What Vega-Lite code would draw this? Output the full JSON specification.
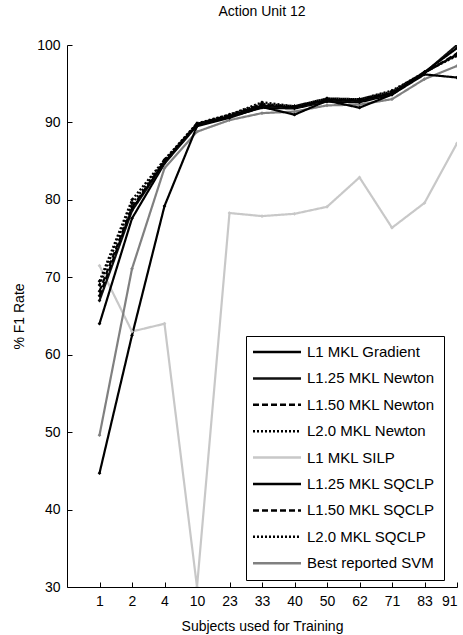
{
  "$schema": "https://vega.github.io/schema/vega-lite/v6.json",
  "width": 390,
  "height": 542,
  "autosize": {"type": "none"},
  "padding": {"left": 67, "top": 45, "right": 6, "bottom": 48},
  "background": "white",
  "title": {"text": "Action Unit 12", "fontSize": 14, "fontWeight": "normal", "font": "Liberation Sans", "color": "black", "offset": 19, "anchor": "middle"},
  "config": {
    "view": {"stroke": null},
    "axis": {"grid": false, "domainColor": "black", "tickColor": "black", "labelColor": "black", "titleColor": "black", "labelFont": "Liberation Sans", "titleFont": "Liberation Sans", "labelFontSize": 14, "titleFontSize": 14, "titleFontWeight": "normal", "tickSize": -5, "domainWidth": 1, "tickWidth": 1},
    "legend": {"orient": "none", "legendX": 179, "legendY": 291, "strokeColor": "black", "fillColor": "white", "padding": 8.5, "symbolType": "M-4,0H4", "symbolSize": 144, "symbolStrokeWidth": 2.5, "symbolOffset": 15, "labelOffset": 22.5, "labelFontSize": 15, "labelFont": "Liberation Sans", "labelColor": "black", "rowPadding": 10.4, "labelLimit": 300, "cornerRadius": 0}
  },
  "data": {"values": [
    {"s": "L1 MKL SILP", "pos": 1, "v": 71.5}, {"s": "L1 MKL SILP", "pos": 2, "v": 63.0}, {"s": "L1 MKL SILP", "pos": 3, "v": 64.0}, {"s": "L1 MKL SILP", "pos": 4, "v": 30.0}, {"s": "L1 MKL SILP", "pos": 5, "v": 78.3}, {"s": "L1 MKL SILP", "pos": 6, "v": 77.9}, {"s": "L1 MKL SILP", "pos": 7, "v": 78.2}, {"s": "L1 MKL SILP", "pos": 8, "v": 79.1}, {"s": "L1 MKL SILP", "pos": 9, "v": 82.9}, {"s": "L1 MKL SILP", "pos": 10, "v": 76.4}, {"s": "L1 MKL SILP", "pos": 11, "v": 79.6}, {"s": "L1 MKL SILP", "pos": 12, "v": 87.3},
    {"s": "Best reported SVM", "pos": 1, "v": 49.6}, {"s": "Best reported SVM", "pos": 2, "v": 71.1}, {"s": "Best reported SVM", "pos": 3, "v": 84.1}, {"s": "Best reported SVM", "pos": 4, "v": 88.8}, {"s": "Best reported SVM", "pos": 5, "v": 90.3}, {"s": "Best reported SVM", "pos": 6, "v": 91.2}, {"s": "Best reported SVM", "pos": 7, "v": 91.4}, {"s": "Best reported SVM", "pos": 8, "v": 92.2}, {"s": "Best reported SVM", "pos": 9, "v": 92.3}, {"s": "Best reported SVM", "pos": 10, "v": 93.0}, {"s": "Best reported SVM", "pos": 11, "v": 95.6}, {"s": "Best reported SVM", "pos": 12, "v": 97.3},
    {"s": "L1 MKL Gradient", "pos": 1, "v": 64.0}, {"s": "L1 MKL Gradient", "pos": 2, "v": 77.6}, {"s": "L1 MKL Gradient", "pos": 3, "v": 84.7}, {"s": "L1 MKL Gradient", "pos": 4, "v": 89.6}, {"s": "L1 MKL Gradient", "pos": 5, "v": 90.7}, {"s": "L1 MKL Gradient", "pos": 6, "v": 91.9}, {"s": "L1 MKL Gradient", "pos": 7, "v": 91.8}, {"s": "L1 MKL Gradient", "pos": 8, "v": 92.7}, {"s": "L1 MKL Gradient", "pos": 9, "v": 92.6}, {"s": "L1 MKL Gradient", "pos": 10, "v": 93.6}, {"s": "L1 MKL Gradient", "pos": 11, "v": 96.2}, {"s": "L1 MKL Gradient", "pos": 12, "v": 95.8},
    {"s": "L1.25 MKL Newton", "pos": 1, "v": 67.0}, {"s": "L1.25 MKL Newton", "pos": 2, "v": 78.6}, {"s": "L1.25 MKL Newton", "pos": 3, "v": 84.8}, {"s": "L1.25 MKL Newton", "pos": 4, "v": 89.7}, {"s": "L1.25 MKL Newton", "pos": 5, "v": 90.8}, {"s": "L1.25 MKL Newton", "pos": 6, "v": 92.1}, {"s": "L1.25 MKL Newton", "pos": 7, "v": 91.9}, {"s": "L1.25 MKL Newton", "pos": 8, "v": 92.8}, {"s": "L1.25 MKL Newton", "pos": 9, "v": 92.8}, {"s": "L1.25 MKL Newton", "pos": 10, "v": 93.7}, {"s": "L1.25 MKL Newton", "pos": 11, "v": 96.4}, {"s": "L1.25 MKL Newton", "pos": 12, "v": 100.0},
    {"s": "L1.50 MKL Newton", "pos": 1, "v": 68.2}, {"s": "L1.50 MKL Newton", "pos": 2, "v": 79.0}, {"s": "L1.50 MKL Newton", "pos": 3, "v": 85.0}, {"s": "L1.50 MKL Newton", "pos": 4, "v": 89.8}, {"s": "L1.50 MKL Newton", "pos": 5, "v": 90.9}, {"s": "L1.50 MKL Newton", "pos": 6, "v": 92.3}, {"s": "L1.50 MKL Newton", "pos": 7, "v": 92.0}, {"s": "L1.50 MKL Newton", "pos": 8, "v": 93.0}, {"s": "L1.50 MKL Newton", "pos": 9, "v": 92.9}, {"s": "L1.50 MKL Newton", "pos": 10, "v": 93.8}, {"s": "L1.50 MKL Newton", "pos": 11, "v": 96.4}, {"s": "L1.50 MKL Newton", "pos": 12, "v": 98.9},
    {"s": "L2.0 MKL Newton", "pos": 1, "v": 69.0}, {"s": "L2.0 MKL Newton", "pos": 2, "v": 79.5}, {"s": "L2.0 MKL Newton", "pos": 3, "v": 85.1}, {"s": "L2.0 MKL Newton", "pos": 4, "v": 89.8}, {"s": "L2.0 MKL Newton", "pos": 5, "v": 91.0}, {"s": "L2.0 MKL Newton", "pos": 6, "v": 92.4}, {"s": "L2.0 MKL Newton", "pos": 7, "v": 92.1}, {"s": "L2.0 MKL Newton", "pos": 8, "v": 93.1}, {"s": "L2.0 MKL Newton", "pos": 9, "v": 93.0}, {"s": "L2.0 MKL Newton", "pos": 10, "v": 94.0}, {"s": "L2.0 MKL Newton", "pos": 11, "v": 96.5}, {"s": "L2.0 MKL Newton", "pos": 12, "v": 98.7},
    {"s": "L1.25 MKL SQCLP", "pos": 1, "v": 44.7}, {"s": "L1.25 MKL SQCLP", "pos": 2, "v": 62.5}, {"s": "L1.25 MKL SQCLP", "pos": 3, "v": 79.2}, {"s": "L1.25 MKL SQCLP", "pos": 4, "v": 89.5}, {"s": "L1.25 MKL SQCLP", "pos": 5, "v": 90.6}, {"s": "L1.25 MKL SQCLP", "pos": 6, "v": 92.0}, {"s": "L1.25 MKL SQCLP", "pos": 7, "v": 91.0}, {"s": "L1.25 MKL SQCLP", "pos": 8, "v": 92.8}, {"s": "L1.25 MKL SQCLP", "pos": 9, "v": 91.9}, {"s": "L1.25 MKL SQCLP", "pos": 10, "v": 93.6}, {"s": "L1.25 MKL SQCLP", "pos": 11, "v": 96.5}, {"s": "L1.25 MKL SQCLP", "pos": 12, "v": 99.6},
    {"s": "L1.50 MKL SQCLP", "pos": 1, "v": 67.6}, {"s": "L1.50 MKL SQCLP", "pos": 2, "v": 78.8}, {"s": "L1.50 MKL SQCLP", "pos": 3, "v": 84.9}, {"s": "L1.50 MKL SQCLP", "pos": 4, "v": 89.7}, {"s": "L1.50 MKL SQCLP", "pos": 5, "v": 90.8}, {"s": "L1.50 MKL SQCLP", "pos": 6, "v": 92.2}, {"s": "L1.50 MKL SQCLP", "pos": 7, "v": 91.9}, {"s": "L1.50 MKL SQCLP", "pos": 8, "v": 92.9}, {"s": "L1.50 MKL SQCLP", "pos": 9, "v": 92.8}, {"s": "L1.50 MKL SQCLP", "pos": 10, "v": 93.8}, {"s": "L1.50 MKL SQCLP", "pos": 11, "v": 96.4}, {"s": "L1.50 MKL SQCLP", "pos": 12, "v": 98.8},
    {"s": "L2.0 MKL SQCLP", "pos": 1, "v": 69.5}, {"s": "L2.0 MKL SQCLP", "pos": 2, "v": 80.0}, {"s": "L2.0 MKL SQCLP", "pos": 3, "v": 85.2}, {"s": "L2.0 MKL SQCLP", "pos": 4, "v": 89.9}, {"s": "L2.0 MKL SQCLP", "pos": 5, "v": 91.0}, {"s": "L2.0 MKL SQCLP", "pos": 6, "v": 92.6}, {"s": "L2.0 MKL SQCLP", "pos": 7, "v": 92.1}, {"s": "L2.0 MKL SQCLP", "pos": 8, "v": 93.1}, {"s": "L2.0 MKL SQCLP", "pos": 9, "v": 93.0}, {"s": "L2.0 MKL SQCLP", "pos": 10, "v": 94.1}, {"s": "L2.0 MKL SQCLP", "pos": 11, "v": 96.5}, {"s": "L2.0 MKL SQCLP", "pos": 12, "v": 98.6}
  ]},
  "encoding": {
    "x": {"field": "pos", "type": "quantitative", "scale": {"domain": [0, 12], "nice": false, "zero": false}, "axis": {"title": "Subjects used for Training", "values": [1,2,3,4,5,6,7,8,9,10,11,12], "labelExpr": "['','1','2','4','10','23','33','40','50','62','71','83','91'][datum.value]", "labelPadding": 12, "titlePadding": 11}},
    "y": {"field": "v", "type": "quantitative", "scale": {"domain": [30, 100], "nice": false, "zero": false, "clamp": true}, "axis": {"title": "% F1 Rate", "values": [30,40,50,60,70,80,90,100], "labelPadding": 12, "titlePadding": 10}},
    "color": {"field": "s", "type": "nominal", "title": null,
      "scale": {"domain": ["L1 MKL Gradient", "L1.25 MKL Newton", "L1.50 MKL Newton", "L2.0 MKL Newton", "L1 MKL SILP", "L1.25 MKL SQCLP", "L1.50 MKL SQCLP", "L2.0 MKL SQCLP", "Best reported SVM"],
                "range": ["#000000", "#111111", "#000000", "#000000", "#c8c8c8", "#000000", "#000000", "#000000", "#808080"]}}
  },
  "layer": [
    {
      "mark": {"type": "line", "strokeWidth": 2.2, "clip": true},
      "encoding": {
        "strokeDash": {"field": "s", "type": "nominal", "title": null,
          "scale": {"domain": ["L1 MKL Gradient", "L1.25 MKL Newton", "L1.50 MKL Newton", "L2.0 MKL Newton", "L1 MKL SILP", "L1.25 MKL SQCLP", "L1.50 MKL SQCLP", "L2.0 MKL SQCLP", "Best reported SVM"],
                    "range": [[1,0], [1,0], [6,3], [2,2], [1,0], [1,0], [6,3], [2,2], [1,0]]}}
      }
    },
    {
      "mark": {"type": "point", "shape": "diamond", "filled": true, "size": 14, "opacity": 1, "clip": true}
    }
  ]
}
